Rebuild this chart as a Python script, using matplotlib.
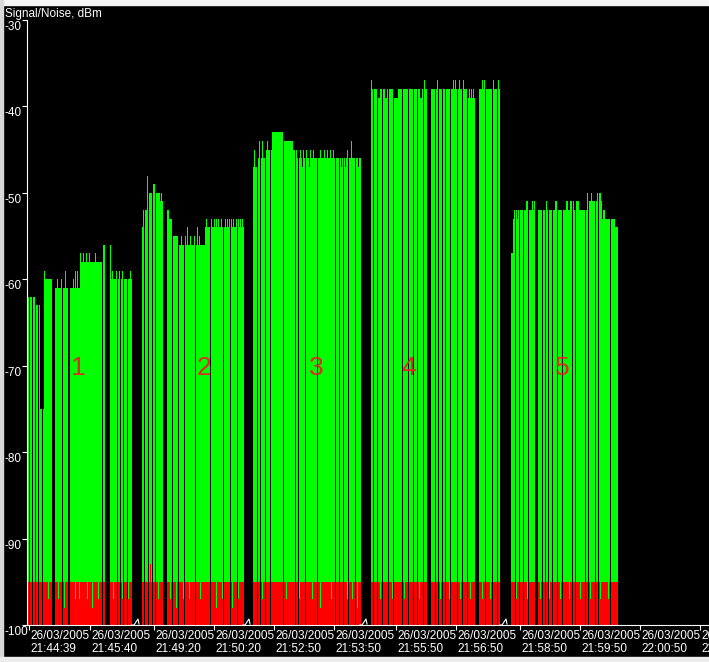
import numpy as np
import matplotlib
matplotlib.use('Agg')
import matplotlib.pyplot as plt
from matplotlib.patches import Rectangle
from matplotlib.lines import Line2D

DATE = '26/03/2005'

# shown pieces of the broken time axis: (start time, length in s)
windows = [('21:44:37', 110), ('21:49:03', 111), ('21:52:24', 117),
           ('21:55:19', 140), ('21:58:35', 204)]
tick_times = [['21:44:39', '21:45:40'],
              ['21:49:20', '21:50:20'],
              ['21:52:50', '21:53:50'],
              ['21:55:50', '21:56:50'],
              ['21:58:50', '21:59:50', '22:00:50', '22:01:50']]

seg_start = ['21:44:38', '21:49:08', '21:52:29', '21:55:25', '21:58:41']
seg_names = ['1', '2', '3', '4', '5']
seg_label_at = [50, 62, 63, 37, 51]

# signal, one sample per second, run length coded (dBm, count), None = no data
sig1 = [(-62, 1), (None, 1), (-62, 2), (None, 1), (-62, 2), (None, 1), (-63, 2), (None, 1), (-63, 1),
        (-75, 2), (None, 1), (-75, 1), (-59, 1), (-60, 7), (None, 3), (-61, 2), (-60, 1), (-61, 3),
        (-60, 1), (None, 1), (-61, 2), (-59, 1), (-61, 2), (None, 2), (-61, 3), (-60, 1), (-61, 1),
        (-59, 1), (-61, 1), (-59, 1), (-61, 2), (-57, 1), (-58, 2), (-57, 1), (-58, 2), (-57, 1),
        (-58, 2), (-57, 1), (-58, 5), (-57, 1), (-58, 6), (None, 1), (-56, 2), (None, 5), (-56, 1),
        (-60, 1), (-59, 1), (-60, 3), (-59, 1), (None, 1), (-60, 1), (-59, 1), (None, 1), (-60, 1),
        (-59, 1), (None, 1), (-60, 3), (None, 1), (-60, 2), (-59, 1), (-60, 1)]
sig2 = [(-54, 1), (-52, 1), (None, 1), (-52, 2), (-48, 1), (None, 1), (-50, 3), (None, 1), (-49, 2),
        (None, 1), (-50, 4), (-51, 1), (-50, 1), (-51, 1), (None, 4), (-52, 2), (-53, 3), (None, 1),
        (-55, 5), (None, 1), (-56, 2), (-55, 1), (-56, 2), (None, 1), (-55, 1), (-56, 1), (-54, 1),
        (-56, 2), (-55, 1), (-56, 3), (-55, 1), (None, 1), (-56, 1), (-54, 1), (-56, 1), (-55, 1),
        (-56, 5), (-54, 1), (-53, 1), (-54, 3), (None, 1), (-53, 1), (-54, 2), (-53, 1), (-54, 1),
        (-53, 1), (-54, 1), (-53, 1), (-54, 2), (-53, 1), (-54, 1), (None, 1), (-54, 1), (-53, 1),
        (-54, 1), (-53, 1), (-54, 1), (-53, 1), (None, 1), (-53, 1), (-54, 1), (-53, 1), (-54, 2),
        (-53, 1), (None, 1), (-53, 1), (-54, 1), (-53, 1), (-54, 1), (-53, 1), (-54, 1)]
sig3 = [(-47, 1), (-45, 1), (-47, 2), (None, 1), (-46, 1), (-44, 1), (None, 1), (-46, 1), (-44, 1),
        (-46, 2), (None, 1), (-45, 1), (-44, 1), (-45, 2), (None, 1), (-45, 1), (-43, 11), (None, 1),
        (-44, 9), (-45, 2), (None, 1), (-45, 1), (-46, 1), (None, 1), (-46, 1), (-45, 1), (-46, 1),
        (-47, 1), (-45, 1), (-46, 1), (None, 1), (-45, 1), (-46, 2), (-47, 1), (-45, 1), (-46, 2),
        (-45, 1), (-46, 3), (None, 1), (-46, 2), (-45, 1), (-46, 3), (-45, 1), (-46, 2), (-45, 1),
        (-46, 2), (-45, 1), (-46, 2), (-45, 1), (-46, 1), (None, 1), (-46, 3), (None, 1), (-46, 1),
        (-47, 1), (-46, 1), (None, 1), (-46, 1), (-47, 1), (-46, 1), (-45, 1), (None, 1), (-46, 2),
        (-44, 1), (-46, 3), (None, 1), (-46, 2), (-47, 1), (-46, 2)]
sig4 = [(-37, 1), (-38, 1), (None, 1), (-38, 3), (None, 1), (-39, 2), (-38, 2), (None, 1), (-38, 2),
        (-39, 2), (-38, 1), (None, 1), (-38, 4), (None, 1), (-39, 4), (-38, 4), (None, 1), (-38, 5),
        (None, 1), (-38, 4), (None, 1), (-38, 3), (None, 1), (-38, 2), (-39, 2), (-38, 1), (None, 1),
        (-37, 1), (-38, 2), (None, 4), (-38, 4), (None, 1), (-38, 1), (-37, 1), (None, 1), (-38, 3),
        (None, 1), (-38, 2), (None, 1), (-38, 4), (None, 1), (-38, 2), (-37, 1), (-38, 1), (-37, 1),
        (-38, 1), (None, 1), (-38, 1), (-37, 1), (-38, 2), (None, 1), (-37, 1), (-38, 3), (None, 1),
        (-39, 1), (-38, 1), (-39, 1), (-38, 1), (-39, 1), (-38, 1), (-39, 1), (None, 4), (-38, 3),
        (-37, 1), (-38, 1), (-37, 1), (None, 1), (-38, 6), (None, 1), (-37, 1), (-38, 3), (None, 1),
        (-37, 1), (-38, 1)]
sig5 = [(-57, 2), (-53, 1), (-52, 1), (None, 1), (-52, 1), (-53, 1), (-52, 1), (None, 1), (-52, 3),
        (None, 1), (-52, 2), (-51, 2), (None, 1), (-52, 3), (-51, 1), (-52, 1), (-51, 1), (None, 3),
        (-52, 4), (None, 1), (-52, 2), (None, 1), (-51, 1), (-52, 1), (None, 1), (-52, 3), (None, 1),
        (-52, 2), (-51, 2), (None, 1), (-52, 4), (None, 1), (-52, 3), (-51, 2), (-52, 2), (-51, 2),
        (None, 1), (-51, 1), (-52, 1), (None, 1), (-51, 3), (-52, 6), (None, 1), (-52, 1), (-50, 1),
        (None, 1), (-51, 2), (-50, 1), (-51, 3), (None, 1), (-51, 1), (-50, 1), (None, 1), (-50, 2),
        (-51, 1), (-53, 1), (-52, 2), (-53, 5), (None, 1), (-53, 4), (-54, 3)]

# noise floor is -95 dBm, except these samples
NOISE_FLOOR = -95
noise1 = {20: -97, 30: -97, 36: -98, 47: -97, 51: -97, 59: -97, 64: -98, 70: -97, 85: -97, 94: -97, 100: -97}
noise2 = {8: -93, 16: -97, 28: -97, 34: -98, 41: -97, 47: -97, 58: -97, 74: -98, 80: -97, 90: -98, 96: -97}
noise3 = {9: -97, 17: -93, 33: -97, 46: -97, 59: -97, 67: -98, 78: -97, 94: -97, 99: -97, 104: -98}
noise4 = {9: -97, 21: -97, 33: -97, 48: -97, 69: -97, 78: -97, 89: -97, 99: -97, 111: -97, 119: -97}
noise5 = {5: -97, 16: -97, 29: -97, 38: -97, 49: -97, 58: -97, 69: -97, 79: -97, 89: -97, 97: -97}

signals = [sig1, sig2, sig3, sig4, sig5]
noises = [noise1, noise2, noise3, noise4, noise5]


def secs(t):
    h, m, s = t.split(':')
    return int(h) * 3600 + int(m) * 60 + int(s)


def expand(rle):
    out = []
    for v, n in rle:
        out += [np.nan if v is None else v] * n
    return np.array(out, dtype=float)


offsets = np.concatenate([[0], np.cumsum([w[1] for w in windows])])


def xpos(t, k):
    return offsets[k] + secs(t) - secs(windows[k][0])


W, H = 709, 662
fig = plt.figure(figsize=(W / 100, H / 100), dpi=100, facecolor='black')
ax = fig.add_axes([27 / W, 37 / H, (W - 27) / W, (625 - 20) / H])
ax.set_facecolor('black')

small = dict(family=['Liberation Sans', 'DejaVu Sans'], size=8.5, color='white')

for k in range(5):
    sig = expand(signals[k])
    x0 = xpos(seg_start[k], k)
    xs = x0 + np.arange(len(sig))
    ok = ~np.isnan(sig)
    noise = np.full(len(sig), NOISE_FLOOR, dtype=float)
    for i, v in noises[k].items():
        noise[i] = v
    ax.bar(xs[ok], sig[ok] + 100, bottom=-100, width=1, align='edge',
           color='#00ff00', linewidth=0)
    ax.bar(xs[ok], noise[ok] + 100, bottom=-100, width=1, align='edge',
           color='#ff0000', linewidth=0)
    ax.text(x0 + seg_label_at[k] + 0.5, -70.3, seg_names[k], color='#e02828',
            family=['Liberation Sans', 'DejaVu Sans'], size=19,
            ha='center', va='center')

ax.set_xlim(0, offsets[-1])
ax.set_ylim(-100, -30)

for s in ['top', 'right']:
    ax.spines[s].set_visible(False)
for s in ['left', 'bottom']:
    ax.spines[s].set_color('white')
    ax.spines[s].set_linewidth(0.8)

yt = list(range(-30, -101, -10))
ax.set_yticks(yt, labels=[''] * len(yt))
for v in yt:
    ax.annotate(str(v), xy=(0, v), xycoords=ax.get_yaxis_transform(),
                xytext=(-23, -1), textcoords='offset pixels',
                ha='left', va='top', **small)

xt = []
for k in range(5):
    for t in tick_times[k]:
        p = xpos(t, k)
        xt.append(p)
        ax.annotate(DATE + '\n' + t, xy=(p, 0), xycoords=ax.get_xaxis_transform(),
                    xytext=(1, -5), textcoords='offset pixels',
                    ha='left', va='top', linespacing=1.1, **small)
ax.set_xticks(xt, labels=[''] * len(xt))
ax.tick_params(colors='white', length=3.5, width=0.8)

# axis break marks
for k in range(1, 5):
    px, py = ax.transData.transform((offsets[k], -100))
    ax.add_line(Line2D([px - 4, px - 2], [py - 1, py - 1], color='black', lw=1.5,
                       transform=None, clip_on=False))
    ax.add_line(Line2D([px - 5, px - 3, px + 1, px + 2], [py, py, py + 6, py + 1],
                       color='white', lw=0.8, transform=None, clip_on=False))

fig.text(5 / W, 1 - 13.5 / H, 'Signal/Noise, dBm', ha='left', va='center',
         family=['Liberation Sans', 'DejaVu Sans'], size=8.5, color='white')

# window frame
fig.patches.append(Rectangle((0, 1 - 5 / H), 1, 5 / H, transform=fig.transFigure,
                             color='#f4f4f4', zorder=10))
fig.patches.append(Rectangle((0, 0), 3 / W, 1, transform=fig.transFigure,
                             color='#d8d8d8', zorder=10))
fig.patches.append(Rectangle((0, 0), 1, 5 / H, transform=fig.transFigure,
                             color='#ececec', zorder=10))

fig.savefig('out.png', dpi=100, facecolor='black')
